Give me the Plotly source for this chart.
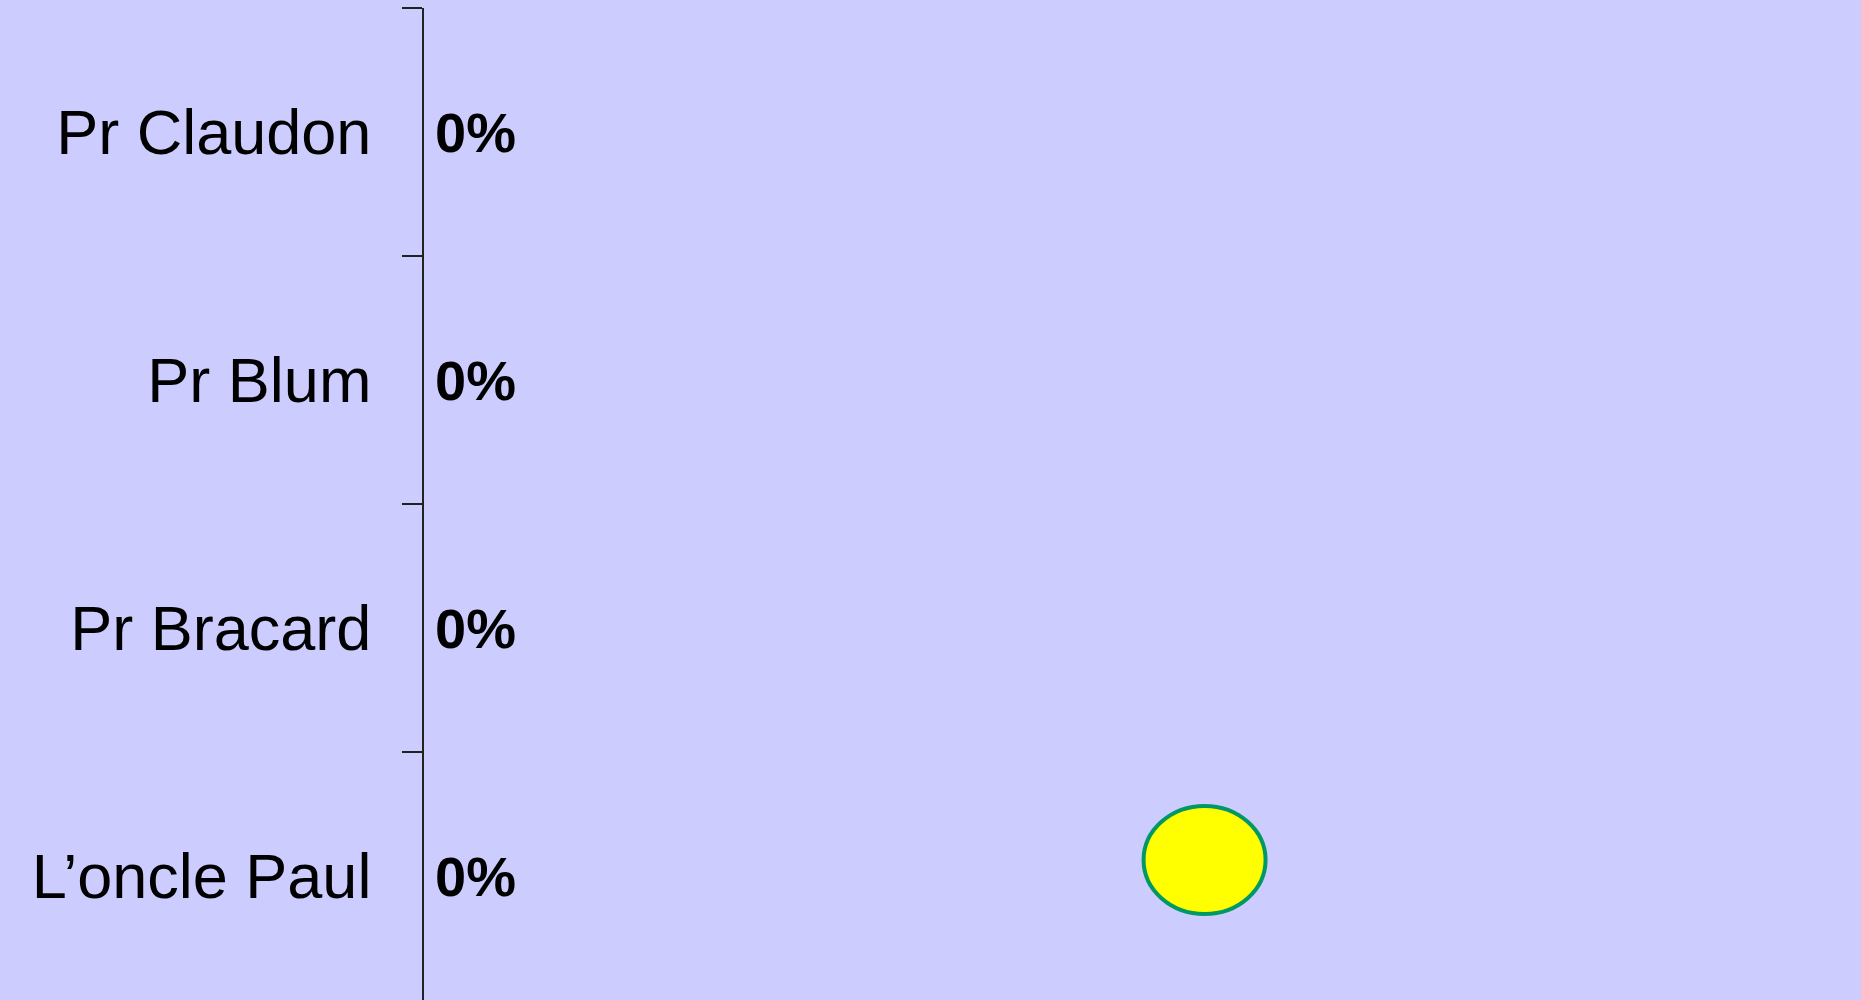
import plotly.graph_objects as go

# Data
categories = ["Pr Claudon", "Pr Blum", "Pr Bracard", "L\u2019oncle Paul"]
values = [0, 0, 0, 0]
pct_labels = [f"{v:.0f}%" for v in values]
pointer_x = 0.54          # position of the yellow pointer on the value axis
pointer_category = "L\u2019oncle Paul"

BG = "#CCCCFF"
FONT = "Liberation Sans, Arial, sans-serif"

fig = go.Figure()

fig.add_trace(go.Bar(
    x=values, y=categories, orientation="h",
    marker=dict(color="#3366CC", line=dict(width=0)),
    hoverinfo="skip", showlegend=False,
))

# value labels next to each (empty) bar
for v, cat, lab in zip(values, categories, pct_labels):
    fig.add_annotation(
        x=v, y=cat, xref="x", yref="y", text=lab, showarrow=False,
        xanchor="left", yanchor="middle", yshift=0, xshift=-1,
        font=dict(family=FONT, size=56, color="black", weight="bold"),
    )

# yellow pointer ellipse anchored in data coordinates
cat_index = categories.index(pointer_category)
fig.add_shape(
    type="circle", xref="x", yref="y",
    xsizemode="pixel", ysizemode="pixel",
    xanchor=pointer_x, yanchor=cat_index,
    x0=-61, x1=61, y0=-38, y1=70,
    fillcolor="#FFFF00", line=dict(color="#009966", width=4),
)

fig.update_layout(
    width=1861, height=1000,
    margin=dict(l=424, r=0, t=8, b=0, pad=0),
    paper_bgcolor=BG, plot_bgcolor=BG,
    bargap=0.3,
    xaxis=dict(range=[-0.007, 1], showgrid=False, zeroline=False,
               showticklabels=False, showline=False, ticks=""),
    yaxis=dict(type="category", categoryorder="array", categoryarray=categories,
               range=[3.5, -0.5], showgrid=False, zeroline=False,
               showline=True, linecolor="#222222", linewidth=2,
               ticks="outside", ticklen=20, tickwidth=1.5, tickcolor="#222222",
               tickson="boundaries", ticklabelstandoff=38,
               tickfont=dict(family=FONT, size=63, color="black")),
)

fig.write_html(
    "out.html",
    config={"displayModeBar": False},
    post_script="document.body.style.margin='0';document.body.style.background='#CCCCFF';",
)
